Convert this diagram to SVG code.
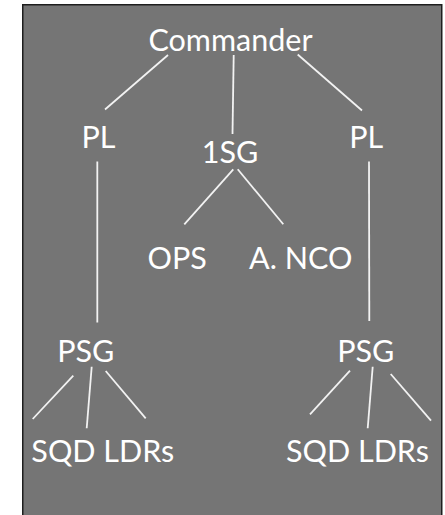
<svg xmlns="http://www.w3.org/2000/svg" width="445" height="515" viewBox="0 0 445 515">
<style>
.t{font-family:Lato,"Noto Sans",sans-serif;font-size:30.5px;fill:#ffffff;text-anchor:middle}
.c line{stroke:#f2f2f2;stroke-width:1.8;stroke-linecap:butt}
</style>
<rect x="0" y="0" width="445" height="515" fill="#ffffff"/>
<rect x="22.75" y="4.75" width="419" height="520" fill="#757575" stroke="#1e1e1e" stroke-width="1.5"/>
<g class="c" id="connectors">
<line x1="168" y1="55" x2="105" y2="109.5"/>
<line x1="233.7" y1="55" x2="232.5" y2="134"/>
<line x1="297.7" y1="54.5" x2="362" y2="110.5"/>
<line x1="97.3" y1="161.5" x2="97.3" y2="322.5"/>
<line x1="369" y1="161.5" x2="369.3" y2="321"/>
<line x1="233.3" y1="169.3" x2="184.3" y2="224.3"/>
<line x1="237.7" y1="169.3" x2="283.3" y2="224.3"/>
<line x1="73.3" y1="375.7" x2="32.7" y2="419"/>
<line x1="91.7" y1="366.7" x2="86.7" y2="428.3"/>
<line x1="105.7" y1="371" x2="145.7" y2="418.3"/>
<line x1="350" y1="370.7" x2="310" y2="414.3"/>
<line x1="372.7" y1="366.7" x2="367.7" y2="428.3"/>
<line x1="390.7" y1="374" x2="431" y2="420.7"/>
</g>
<g id="commander"><text class="t" x="230.5" y="51">Commander</text></g>
<g id="pl-left"><text class="t" x="98.5" y="148.3">PL</text></g>
<g id="first-sergeant"><text class="t" x="230" y="163.3">1SG</text></g>
<g id="pl-right"><text class="t" x="366.3" y="148.3">PL</text></g>
<g id="ops"><text class="t" x="177.2" y="269.3">OPS</text></g>
<g id="a-nco"><text class="t" x="300.7" y="269.3">A. NCO</text></g>
<g id="psg-left"><text class="t" x="85.8" y="362.3">PSG</text></g>
<g id="psg-right"><text class="t" x="365.8" y="362.3">PSG</text></g>
<g id="sqd-left"><text class="t" x="102.8" y="462.3">SQD LDRs</text></g>
<g id="sqd-right"><text class="t" x="357.5" y="462.3">SQD LDRs</text></g>
</svg>
